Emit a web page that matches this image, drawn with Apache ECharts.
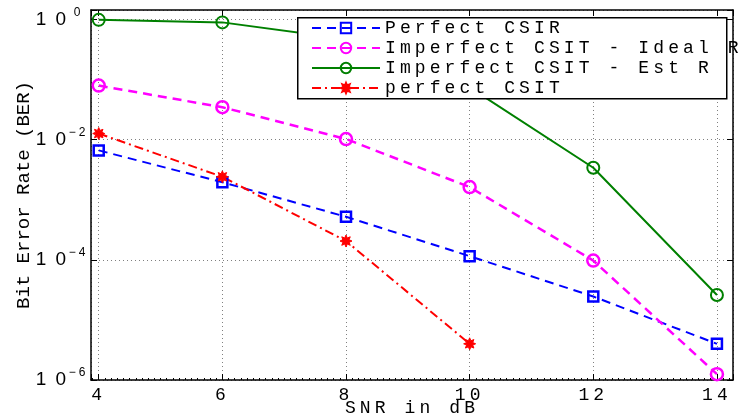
<!DOCTYPE html>
<html>
<head>
<meta charset="utf-8">
<script src="https://cdn.jsdelivr.net/npm/echarts@6/dist/echarts.min.js"></script>
<style>
html,body{margin:0;padding:0;background:#fff;}
#chart{width:748px;height:418px;}
</style>
</head>
<body>
<div id="chart"></div>
<script>
// ---- data ----
var snr = [4, 6, 8, 10, 12, 14];
var snrPerfectCSIT = [4, 6, 8, 10];
var seriesNames = ['Perfect CSIR', 'Imperfect CSIT - Ideal R', 'Imperfect CSIT - Est R', 'perfect CSIT'];
var perfectCSIR = [6.6e-3, 1.95e-3, 5.2e-4, 1.15e-4, 2.45e-5, 4.0e-6];
var imperfectIdealR = [7.9e-2, 3.45e-2, 1.02e-2, 1.62e-3, 9.7e-5, 1.25e-6];
var imperfectEstR = [0.98, 0.89, 0.47, 7.4e-2, 3.4e-3, 2.6e-5];
var perfectCSIT = [1.26e-2, 2.4e-3, 2.05e-4, 4.0e-6];
var xTicks = [4, 6, 8, 10, 12, 14];
var yTickExponents = [0, -2, -4, -6];
var xAxisName = 'SNR in dB';
var yAxisName = 'Bit Error Rate (BER)';

// MATLAB-like wide character spacing for horizontal text
(function () {
  var P = CanvasRenderingContext2D.prototype;
  if (!('letterSpacing' in P)) return;
  var oFill = P.fillText, oStroke = P.strokeText;
  function spacing(ctx) {
    var t = ctx.getTransform();
    if (Math.abs(t.b) > 1e-6 || Math.abs(t.c) > 1e-6) return '0px';
    var f = ctx.font;
    if (/Mono/.test(f)) return '4.1px';
    var m = /(\d+(\.\d+)?)px/.exec(f);
    var size = m ? parseFloat(m[1]) : 12;
    return size >= 15 ? '9px' : '3px';
  }
  function wrap(orig) {
    return function () {
      var old = this.letterSpacing;
      this.letterSpacing = spacing(this);
      var r = orig.apply(this, arguments);
      this.letterSpacing = old;
      return r;
    };
  }
  P.fillText = wrap(oFill);
  P.strokeText = wrap(oStroke);
})();

function pairs(xs, ys) { return xs.map(function (x, i) { return [x, ys[i]]; }); }

var MONO = 'Liberation Mono';
var starPath = 'path://M0,-10L2.1,-5.1L7.07,-7.07L5.1,-2.1L10,0L5.1,2.1L7.07,7.07L2.1,5.1L0,10L-2.1,5.1L-7.07,7.07L-5.1,2.1L-10,0L-5.1,-2.1L-7.07,-7.07L-2.1,-5.1Z';

var gridLine = { show: true, lineStyle: { type: [1, 3], color: '#808080', width: 1 } };
var axisLineStyle = { show: true, lineStyle: { color: '#000', width: 1.5 } };

function yLabel(v) {
  var lg = Math.log10(v);
  var e = Math.round(lg);
  if (Math.abs(lg - e) > 1e-6 || yTickExponents.indexOf(e) < 0) return '';
  return '{b|10}{s|' + (e < 0 ? '\u2212' + (-e) : String(e)) + '}';
}

var chart = echarts.init(document.getElementById('chart'), null, { renderer: 'canvas' });
var option = {
  backgroundColor: '#fff',
  animation: false,
  grid: { left: 91, right: 15, top: 10, bottom: 38, containLabel: false, outerBoundsMode: 'none' },
  xAxis: [
    {
      type: 'value', position: 'bottom', min: 3.875, max: 14.26, splitNumber: 5,
      axisLine: axisLineStyle,
      axisTick: { show: true, inside: true, length: 6, lineStyle: { color: '#000', width: 1 } },
      minorTick: { show: true, splitNumber: 20, length: 2, lineStyle: { color: '#000', width: 1 } },
      axisLabel: {
        show: true, margin: 6, color: '#000', fontFamily: MONO, fontSize: 18,
        showMinLabel: false, showMaxLabel: false,
        formatter: function (v) { return xTicks.indexOf(Math.round(v * 1000) / 1000) >= 0 ? String(v) : ''; }
      },
      splitLine: gridLine,
      name: xAxisName, nameLocation: 'middle', nameGap: 19, nameMoveOverlap: false,
      nameTextStyle: { color: '#000', fontFamily: MONO, fontSize: 18, verticalAlign: 'top' }
    },
    {
      type: 'value', position: 'top', min: 3.875, max: 14.26, splitNumber: 5,
      axisLine: axisLineStyle,
      axisTick: { show: true, inside: true, length: 6, lineStyle: { color: '#000', width: 1 } },
      axisLabel: { show: false },
      splitLine: { show: false }
    }
  ],
  yAxis: [
    {
      type: 'log', logBase: 10, position: 'left', min: 1e-6, max: 1.43, interval: 2,
      axisLine: axisLineStyle,
      axisTick: { show: true, inside: true, length: 6, lineStyle: { color: '#000', width: 1 } },
      axisLabel: {
        show: true, margin: 3, color: '#000', formatter: yLabel,
        rich: {
          b: { fontFamily: 'Liberation Sans', fontSize: 19, lineHeight: 26, color: '#000' },
          s: { fontFamily: 'Liberation Sans', fontSize: 12, lineHeight: 8, verticalAlign: 'top', color: '#000', padding: [0, 0, 0, 3], width: 19, align: 'left' }
        }
      },
      splitLine: gridLine,
      name: yAxisName, nameLocation: 'middle', nameGap: 58, nameRotate: 90, nameMoveOverlap: false,
      nameTextStyle: { color: '#000', fontFamily: MONO, fontSize: 19 }
    },
    {
      type: 'log', logBase: 10, position: 'right', min: 1e-6, max: 1.43, interval: 2,
      axisLine: axisLineStyle,
      axisTick: { show: true, inside: true, length: 6, lineStyle: { color: '#000', width: 1 } },
      axisLabel: { show: false },
      splitLine: { show: false }
    }
  ],
  legend: {
    orient: 'vertical', left: 311, top: 18, itemWidth: 68, itemHeight: 13, itemGap: 0,
    padding: 0, z: 10,
    data: seriesNames,
    textStyle: { color: '#000', fontFamily: MONO, fontSize: 18, lineHeight: 20 }
  },
  graphic: {
    elements: [{
      type: 'rect', z: 5, left: 297, top: 17,
      shape: { width: 429, height: 81 },
      style: { fill: '#fff', stroke: '#000', lineWidth: 1.5 }
    }]
  },
  series: [
    {
      name: seriesNames[0], type: 'line', data: pairs(snr, perfectCSIR),
      symbol: 'rect', symbolSize: 10,
      lineStyle: { color: '#0000ff', width: 2, type: [9, 6] },
      itemStyle: { color: 'rgba(255,255,255,0)', borderColor: '#0000ff', borderWidth: 2.5 }
    },
    {
      name: seriesNames[1], type: 'line', data: pairs(snr, imperfectIdealR),
      symbol: 'circle', symbolSize: 12,
      lineStyle: { color: '#ff00ff', width: 2.5, type: [9, 6] },
      itemStyle: { color: 'rgba(255,255,255,0)', borderColor: '#ff00ff', borderWidth: 2.5 }
    },
    {
      name: seriesNames[2], type: 'line', data: pairs(snr, imperfectEstR),
      symbol: 'circle', symbolSize: 12,
      lineStyle: { color: '#008000', width: 2, type: 'solid' },
      itemStyle: { color: 'rgba(255,255,255,0)', borderColor: '#008000', borderWidth: 2 }
    },
    {
      name: seriesNames[3], type: 'line', data: pairs(snrPerfectCSIT, perfectCSIT),
      symbol: starPath, symbolSize: 12,
      lineStyle: { color: '#ff0000', width: 2, type: [9, 4, 2, 4] },
      itemStyle: { color: '#ff0000', borderColor: '#ff0000', borderWidth: 1 }
    }
  ]
};
chart.setOption(option);
</script>
</body>
</html>
